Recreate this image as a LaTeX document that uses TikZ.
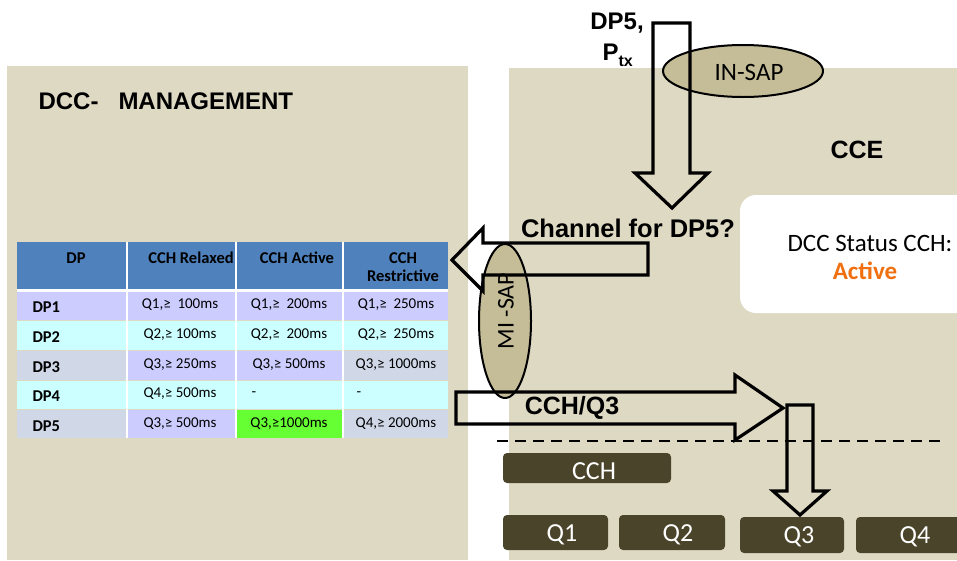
\documentclass[tikz,border=0pt]{standalone}
\usepackage{fontspec}
\setmainfont{Carlito}
\newfontfamily\arialfont{Liberation Sans}
\definecolor{panel}{HTML}{DDD9C3}
\definecolor{sap}{HTML}{C4BD97}
\definecolor{queue}{HTML}{4A452A}
\definecolor{hdr}{HTML}{4F81BD}
\definecolor{lav}{HTML}{CCCCFF}
\definecolor{cya}{HTML}{CCFFFF}
\definecolor{gry}{HTML}{D0D8E8}
\definecolor{grn}{HTML}{66FF33}
\definecolor{orng}{HTML}{F0700F}
\newcommand\fs[1]{\fontsize{#1}{#1}\selectfont}
\tikzset{
  blockarrow/.style={draw=black, line width=3.2pt, line join=miter},
  sapell/.style={ellipse, draw=black, line width=2pt, fill=sap, inner sep=0pt},
  queuebox/.style={fill=queue, rounded corners=4pt},
  qlabel/.style={text=white, font=\fs{26}},
  bigbold/.style={font=\arialfont\bfseries\fs{24}},
  hcell/.style={font=\bfseries\fs{16.5}, align=center},
  vcell/.style={font=\fs{15}},
  dpcell/.style={font=\bfseries\fs{16.5}, anchor=west},
}
\usetikzlibrary{shapes.geometric}
\begin{document}
\begin{tikzpicture}[x=1pt,y=-1pt]
\useasboundingbox (0,0) rectangle (957,560);

% panels
\fill[panel] (7,66) rectangle (468,560);
\fill[panel] (509,68) rectangle (957,560);
\node[font=\arialfont\bfseries\fs{24}, anchor=west] (mgmt) at (35,101) {DCC-\ \ \ MANAGEMENT};
\node[bigbold, font=\arialfont\bfseries\fs{25}] (cce) at (857,150) {CCE};

% status box
\fill[white, rounded corners=16pt] (740,195) rectangle (990,313);
\node[font=\fs{25}] (status) at (870,243) {DCC Status CCH:};
\node[font=\bfseries\fs{25}, text=orng] (active) at (865,271) {Active};

% table header
\fill[hdr] (17,242) rectangle (448,289);
\fill[white] (17,289) rectangle (448,292);
\foreach \x in {127,236,343}{\fill[white] (\x-1,242) rectangle (\x+1,438);}
\node[hcell] (h1) at (76,258) {DP};
\node[hcell] (h2) at (191,258) {CCH Relaxed};
\node[hcell] (h3) at (297,258) {CCH Active};
\node[hcell] (h4) at (403,267) {CCH\\[1pt]Restrictive};

% table body: row top, bottom, colours
\foreach \ya/\yb/\ca/\cb/\cc/\cd in {
  292/320/lav/lav/lav/lav,
  321/350/cya/cya/cya/cya,
  351/380/gry/lav/lav/gry,
  381/409/cya/cya/cya/cya,
  410/438/gry/lav/grn/gry}{
  \fill[\ca] (17,\ya) rectangle (126,\yb);
  \fill[\cb] (128,\ya) rectangle (235,\yb);
  \fill[\cc] (237,\ya) rectangle (342,\yb);
  \fill[\cd] (344,\ya) rectangle (448,\yb);
}
\foreach \n/\y/\a/\b/\c in {
  1/305/{Q1,≥\ \ 100ms}/{Q1,≥\ \ 200ms}/{Q1,≥\ \ 250ms},
  2/335/{Q2,≥\ 100ms}/{Q2,≥\ \ 200ms}/{Q2,≥\ \ 250ms},
  3/365/{Q3,≥ 250ms}/{Q3,≥ 500ms}/{Q3,≥ 1000ms},
  4/394/{Q4,≥ 500ms}/{}/{},
  5/424/{Q3,≥ 500ms}/{Q3,≥1000ms}/{Q4,≥ 2000ms}}{
  \node[dpcell] (dp\n) at (29,\y+2) {DP\n};
  \node[vcell] (ra\n) at (180,\y) {\a};
  \node[vcell] (ac\n) at (289,\y) {\b};
  \node[vcell] (re\n) at (396,\y) {\c};
}
\node[vcell, anchor=west] (ac4d) at (248,394) {-};
\node[vcell, anchor=west] (re4d) at (353,394) {-};

% service access points
\node[sapell, minimum width=160pt, minimum height=52pt] (insap) at (743,71) {};
\node[font=\fs{25}] (insapt) at (749,72) {IN-SAP};
\node[sapell, minimum width=52pt, minimum height=154pt] (misap) at (505,321) {};
\node[font=\fs{24}, rotate=90] (misapt) at (506,311) {MI -SAP};

% queues
\fill[queuebox] (503,453) rectangle (671,483);
\node[qlabel] (cch) at (594,471) {CCH};
\fill[queuebox] (503,515) rectangle (608,550);
\node[qlabel] (q1) at (562,535) {Q1};
\fill[queuebox] (619,515) rectangle (725,550);
\node[qlabel] (q2) at (678,535) {Q2};
\fill[queuebox] (740,517) rectangle (844,553);
\node[qlabel] (q3) at (799,537) {Q3};
\fill[queuebox] (856,517) rectangle (990,553);
\node[qlabel] (q4) at (915,537) {Q4};

% dashed boundary
\coordinate (dl) at (497,441);
\coordinate (dr) at (943,441);
\draw[line width=2.4pt, dash pattern=on 11pt off 7pt] (dl) -- (dr);

% request arrow into the CCE
\coordinate (a1) at (653,23);
\draw[blockarrow] (a1) -- ++(37,0) -- ++(0,150) -- ++(18,0) -- (672,208) -- (635,173) -- (653,173) -- cycle;
\node[bigbold] (dp5) at (617,23) {DP5,};
\node[bigbold, anchor=west] (ptx) at (599,55) {P\raisebox{-0.45ex}{\fs{16}tx}};

% query arrow to management
\coordinate (a2) at (648,243);
\draw[blockarrow] (a2) -- (648,275) -- (483,275) -- (483,291) -- (452,260) -- (483,228) -- (483,243) -- cycle;
\node[bigbold, font=\arialfont\bfseries\fs{25.5}] (chq) at (628,228) {Channel for DP5?};

% answer arrow
\coordinate (a3) at (456,392);
\draw[blockarrow] (a3) -- (735,392) -- (735,375) -- (783,408) -- (735,440) -- (735,424) -- (456,424) -- cycle;
\node[font=\arialfont\bfseries\fs{25}] (ans) at (572,408) {CCH/Q3};

% into queue Q3
\coordinate (a4) at (787,405);
\draw[blockarrow] (a4) -- (813,405) -- (813,491) -- (827,491) -- (800,515) -- (773,491) -- (787,491) -- cycle;
\end{tikzpicture}
\end{document}
